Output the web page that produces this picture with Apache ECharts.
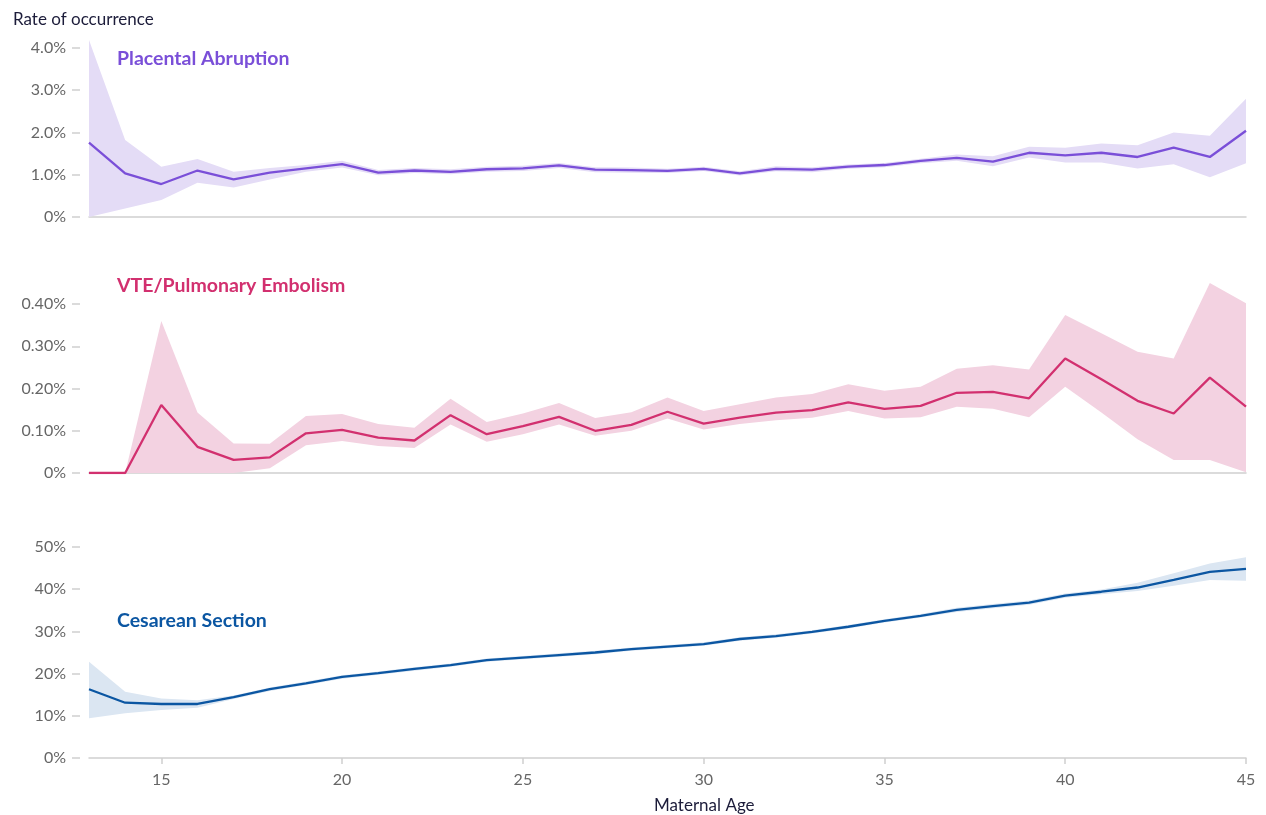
<!DOCTYPE html>
<html><head><meta charset="utf-8">
<script src="https://cdn.jsdelivr.net/npm/echarts@6/dist/echarts.min.js"></script>
<style>html,body{margin:0;padding:0;background:#fff}#c{width:1266px;height:815px}</style>
</head><body><div id="c"></div>
<script>
const ages = [13,14,15,16,17,18,19,20,21,22,23,24,25,26,27,28,29,30,31,32,33,34,35,36,37,38,39,40,41,42,43,44,45];

const abruptionRate  = [1.76,1.03,0.78,1.10,0.89,1.05,1.15,1.25,1.05,1.10,1.07,1.13,1.15,1.22,1.12,1.11,1.09,1.14,1.03,1.14,1.12,1.19,1.23,1.33,1.40,1.31,1.52,1.46,1.52,1.42,1.64,1.42,2.04];
const abruptionLower = [0.00,0.20,0.40,0.81,0.70,0.89,1.07,1.17,0.99,1.04,1.01,1.07,1.09,1.16,1.06,1.05,1.04,1.09,0.98,1.08,1.06,1.14,1.18,1.27,1.33,1.20,1.41,1.29,1.29,1.15,1.25,0.94,1.27];
const abruptionUpper = [4.19,1.82,1.19,1.37,1.07,1.16,1.23,1.33,1.11,1.16,1.13,1.19,1.21,1.28,1.18,1.17,1.14,1.19,1.08,1.20,1.18,1.24,1.28,1.38,1.48,1.44,1.66,1.64,1.74,1.70,2.00,1.92,2.80];

const vteRate  = [0,0,0.161,0.062,0.031,0.037,0.094,0.102,0.084,0.077,0.137,0.092,0.111,0.133,0.100,0.114,0.145,0.117,0.131,0.143,0.149,0.167,0.152,0.159,0.190,0.192,0.177,0.271,0.222,0.171,0.141,0.226,0.157];
const vteLower = [0,0,0,0,0,0.011,0.066,0.076,0.064,0.059,0.115,0.074,0.092,0.115,0.088,0.100,0.129,0.103,0.116,0.125,0.131,0.147,0.129,0.132,0.157,0.152,0.132,0.204,0.143,0.080,0.031,0.031,0.002];
const vteUpper = [0,0,0.360,0.143,0.070,0.069,0.135,0.140,0.116,0.107,0.176,0.121,0.141,0.166,0.130,0.144,0.179,0.147,0.163,0.179,0.187,0.210,0.195,0.204,0.247,0.255,0.245,0.374,0.331,0.287,0.271,0.450,0.402];

const csRate  = [16.3,13.1,12.8,12.8,14.4,16.3,17.7,19.2,20.1,21.1,22.0,23.2,23.8,24.4,25.0,25.8,26.4,27.0,28.2,28.9,29.9,31.1,32.5,33.7,35.1,36.0,36.8,38.5,39.4,40.4,42.2,44.1,44.8];
const csLower = [9.4,10.6,11.4,11.9,14.0,15.9,17.3,18.8,19.7,20.7,21.6,22.8,23.4,24.0,24.6,25.4,26.0,26.6,27.8,28.5,29.5,30.7,32.1,33.3,34.6,35.5,36.3,38.0,38.8,39.6,40.8,42.2,42.0];
const csUpper = [22.8,15.7,14.1,13.7,14.8,16.7,18.1,19.6,20.5,21.5,22.4,23.6,24.2,24.8,25.4,26.2,26.8,27.4,28.6,29.3,30.3,31.5,32.9,34.1,35.6,36.5,37.3,39.0,39.9,41.5,43.8,46.1,47.6];

const yTicksTop = [0,1,2,3,4];
const yTicksMid = [0,0.1,0.2,0.3,0.4];
const yTicksBot = [0,10,20,30,40,50];
const xTickStep = 5;

const panels = [
  {name:'Placental Abruption', rate:abruptionRate, lo:abruptionLower, hi:abruptionUpper, line:'#7a4fd8', band:'#e4dcf6', max:4.2, ticks:yTicksTop, fmt:v=>v===0?'0%':v.toFixed(1)+'%', top:39.5, height:177.5, labelY:44},
  {name:'VTE/Pulmonary Embolism', rate:vteRate, lo:vteLower, hi:vteUpper, line:'#d2306f', band:'#f3d2e1', max:0.45, ticks:yTicksMid, fmt:v=>v===0?'0%':v.toFixed(2)+'%', top:283, height:190, labelY:271},
  {name:'Cesarean Section', rate:csRate, lo:csLower, hi:csUpper, line:'#0b56a2', band:'#dbe6f2', max:50, ticks:yTicksBot, fmt:v=>Math.round(v)+'%', top:547, height:211, labelY:606}
];

const showAge = (idx, val) => Number(val) % xTickStep === 0;
const grids=[], xAxes=[], yAxes=[], series=[], titles=[];
panels.forEach((p,i)=>{
  grids.push({left:89, width:1157, top:p.top, height:p.height});
  const last = i===panels.length-1;
  xAxes.push({type:'category', gridIndex:i, data:ages.map(String), boundaryGap:false,
    axisLine:{show:true, lineStyle:{color:'#cfcfcf', width:1.5}},
    axisTick:{show:last, length:6, interval:showAge, lineStyle:{color:'#cfcfcf', width:1.5}},
    axisLabel:{show:last, interval:showAge, color:'#666666', fontSize:16, fontFamily:'Lato', margin:14},
    splitLine:{show:false}
  });
  yAxes.push({type:'value', gridIndex:i, min:0, max:p.max, offset:9,
    axisLine:{show:false},
    axisTick:{show:true, length:8, lineStyle:{color:'#cfcfcf', width:1.5}, customValues:p.ticks},
    axisLabel:{color:'#666666', fontSize:16, fontFamily:'Lato', margin:14, formatter:p.fmt, customValues:p.ticks},
    splitLine:{show:false}
  });
  const diff = p.hi.map((h,k)=>+(h-p.lo[k]).toFixed(4));
  series.push({type:'line', xAxisIndex:i, yAxisIndex:i, data:p.lo, stack:'band'+i, symbol:'none', lineStyle:{opacity:0}, silent:true});
  series.push({type:'line', xAxisIndex:i, yAxisIndex:i, data:diff, stack:'band'+i, symbol:'none', lineStyle:{opacity:0}, areaStyle:{color:p.band, opacity:1}, silent:true});
  series.push({type:'line', xAxisIndex:i, yAxisIndex:i, data:p.rate, symbol:'none', lineStyle:{color:p.line, width:2.3}, z:5});
  titles.push({text:p.name, left:112, top:p.labelY, textStyle:{color:p.line, fontSize:19.5, fontWeight:'bold', fontFamily:'Lato'}});
});
titles.push({text:'Rate of occurrence', left:8, top:6, textStyle:{color:'#1c1c3a', fontSize:17, fontWeight:'normal', fontFamily:'Lato'}});
titles.push({text:'Maternal Age', left:649, top:792, textStyle:{color:'#1c1c3a', fontSize:17, fontWeight:'normal', fontFamily:'Lato'}});

const chart = echarts.init(document.getElementById('c'), null, {renderer:'canvas'});
chart.setOption({animation:false, backgroundColor:'#ffffff', title:titles, grid:grids, xAxis:xAxes, yAxis:yAxes, series:series});
</script></body></html>
